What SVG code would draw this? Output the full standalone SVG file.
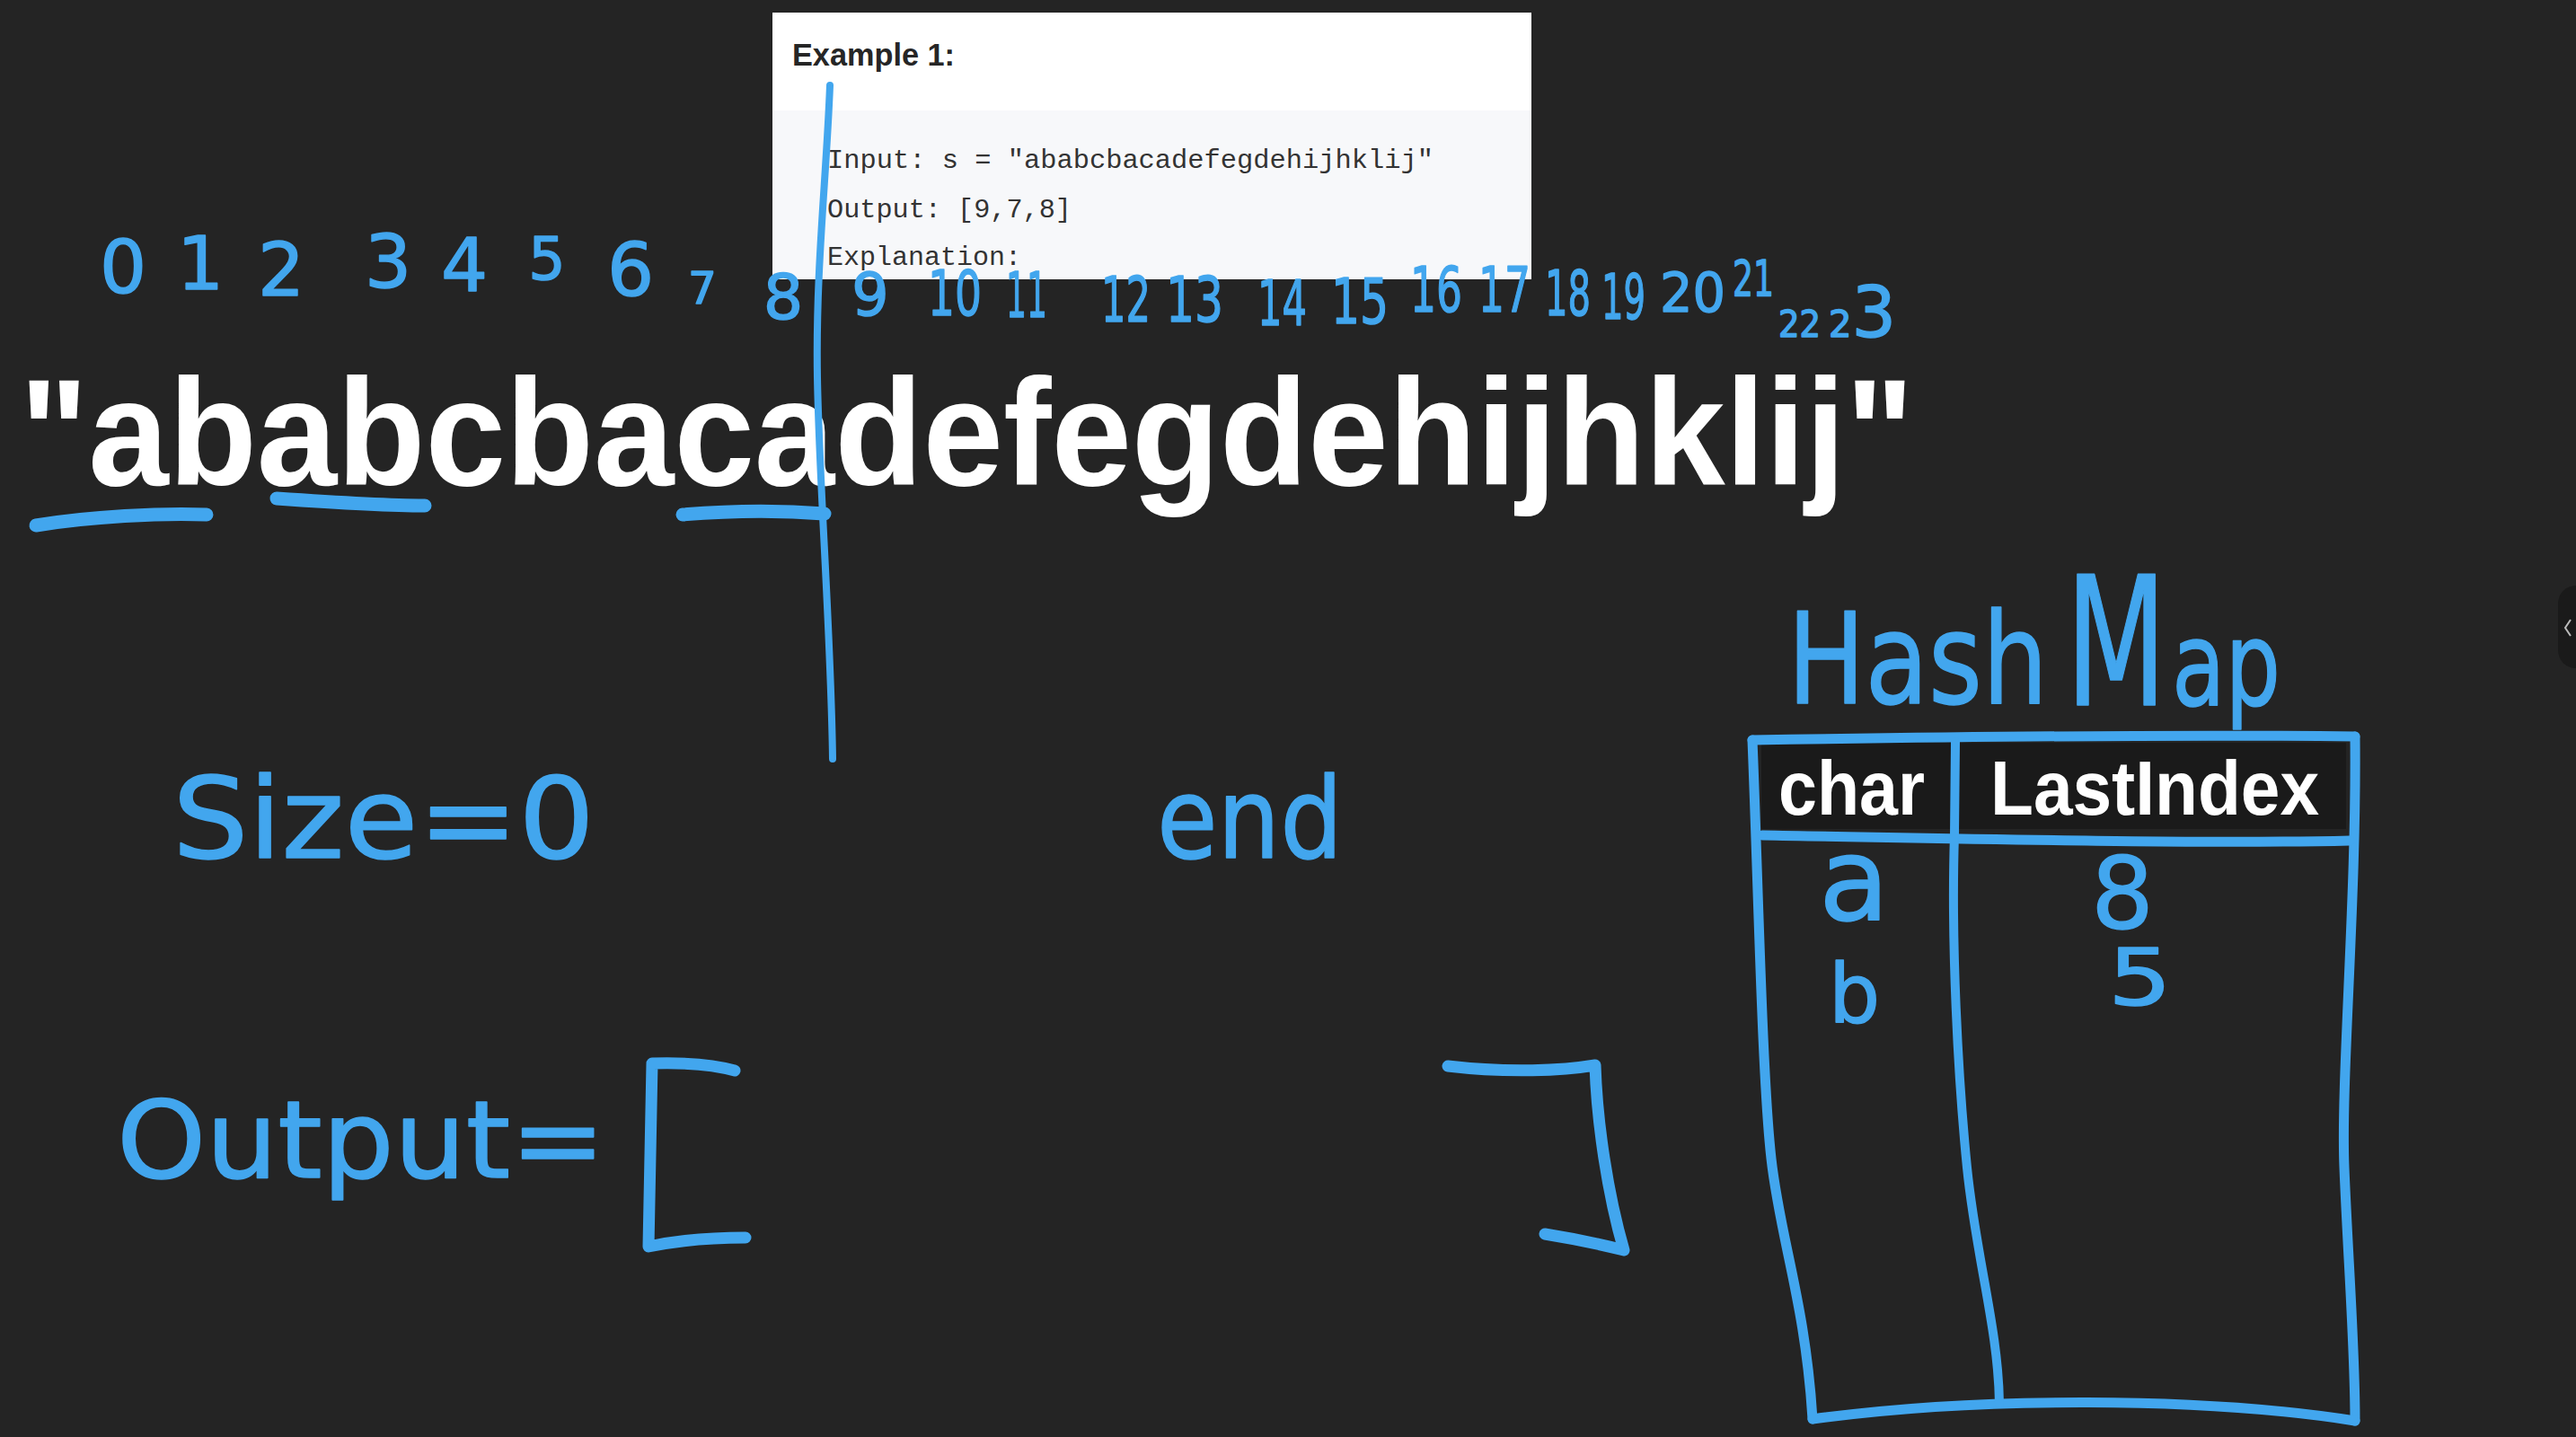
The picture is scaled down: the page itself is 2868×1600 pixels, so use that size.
<svg xmlns="http://www.w3.org/2000/svg" width="2868" height="1600" viewBox="0 0 2868 1600">
<style>
.hw{font-family:"DejaVu Sans","Noto Sans",sans-serif;fill:#42a6ee;stroke:#42a6ee;stroke-width:1.5;stroke-linejoin:round}
.ln{fill:none;stroke:#42a6ee;stroke-linecap:round;stroke-linejoin:round}
.big{font-family:"Liberation Sans",Arial,sans-serif;font-weight:bold;fill:#ffffff}
.code{font-family:"Liberation Mono","DejaVu Sans Mono",monospace;font-size:30px;fill:#333333}
</style>
<rect width="2868" height="1600" fill="#242424"/>

<g id="example-card">
<rect x="860" y="14" width="845" height="297" fill="#ffffff"/>
<rect x="860" y="123" width="845" height="188" fill="#f7f8fa"/>
<text x="882" y="73" font-family="Liberation Sans,Arial,sans-serif" font-weight="bold" font-size="35" fill="#262626" textLength="181" lengthAdjust="spacingAndGlyphs">Example 1:</text>
<text class="code" x="921" y="187" textLength="675" lengthAdjust="spacingAndGlyphs">Input: s = "ababcbacadefegdehijhklij"</text>
<text class="code" x="921" y="242" textLength="272" lengthAdjust="spacingAndGlyphs">Output: [9,7,8]</text>
<text class="code" x="921" y="295" textLength="216" lengthAdjust="spacingAndGlyphs">Explanation:</text>
</g>

<g id="string">
<text class="big" x="22" y="540" font-size="168" textLength="2109" lengthAdjust="spacingAndGlyphs">"ababcbacadefegdehijhklij"</text>
</g>

<g id="indices">
<text class="hw" text-anchor="middle" font-size="82"><tspan x="137" y="326">0</tspan><tspan x="223" y="322">1</tspan><tspan x="313" y="329">2</tspan><tspan x="432" y="320">3</tspan><tspan x="517" y="324">4</tspan><tspan x="609" y="311" font-size="65">5</tspan><tspan x="702" y="329">6</tspan><tspan x="782" y="338" font-size="50">7</tspan><tspan x="872" y="355" font-size="70">8</tspan><tspan x="969" y="351" font-size="65">9</tspan></text>
<text class="hw" font-size="70"><tspan x="1033" y="351" textLength="60" lengthAdjust="spacingAndGlyphs">10</tspan><tspan x="1120" y="353" textLength="46" lengthAdjust="spacingAndGlyphs">11</tspan><tspan x="1226" y="358" textLength="55" lengthAdjust="spacingAndGlyphs">12</tspan><tspan x="1298" y="358" textLength="64" lengthAdjust="spacingAndGlyphs">13</tspan><tspan x="1400" y="362" textLength="55" lengthAdjust="spacingAndGlyphs">14</tspan><tspan x="1482" y="360" textLength="64" lengthAdjust="spacingAndGlyphs">15</tspan><tspan x="1570" y="347" textLength="58" lengthAdjust="spacingAndGlyphs">16</tspan><tspan x="1646" y="347" textLength="58" lengthAdjust="spacingAndGlyphs">17</tspan><tspan x="1720" y="351" textLength="51" lengthAdjust="spacingAndGlyphs">18</tspan><tspan x="1783" y="355" textLength="49" lengthAdjust="spacingAndGlyphs">19</tspan><tspan x="1848" y="347" font-size="60" textLength="73" lengthAdjust="spacingAndGlyphs">20</tspan><tspan x="1929" y="329" font-size="55" textLength="46" lengthAdjust="spacingAndGlyphs">21</tspan><tspan x="1980" y="375" font-size="40" textLength="47" lengthAdjust="spacingAndGlyphs">22</tspan><tspan x="2036" y="375" font-size="40">2</tspan><tspan font-size="78">3</tspan></text>
</g>

<g id="marks">
<path class="ln" stroke-width="8" d="M924,95 C920,200 908,300 910,420 S925,700 927,845"/>
<path class="ln" stroke-width="15" d="M40,585 C100,575 180,571 230,573"/>
<path class="ln" stroke-width="15" d="M308,555 C380,560 430,563 473,563"/>
<path class="ln" stroke-width="15" d="M760,573 C820,568 880,569 918,572"/>
</g>

<g id="size">
<text class="hw" x="192" y="955" font-size="125" textLength="470" lengthAdjust="spacingAndGlyphs">Size=0</text>
</g>
<g id="end">
<text class="hw" x="1288" y="955" font-size="125" textLength="207" lengthAdjust="spacingAndGlyphs">end</text>
</g>

<g id="output">
<text class="hw" x="130" y="1311" font-size="120" textLength="544" lengthAdjust="spacingAndGlyphs">Output=</text>
<path class="ln" stroke-width="13" d="M818,1192 C790,1184 760,1183 726,1184 L722,1388 C760,1380 800,1378 830,1378"/>
<path class="ln" stroke-width="13" d="M1612,1187 C1680,1195 1740,1192 1776,1186 C1778,1250 1790,1330 1808,1392 C1780,1385 1745,1378 1720,1374"/>
</g>

<g id="hashmap">
<text class="hw" x="1990" y="783" font-size="140"><tspan textLength="290" lengthAdjust="spacingAndGlyphs">Hash</tspan><tspan x="2300" y="785" font-size="200" textLength="112" lengthAdjust="spacingAndGlyphs">M</tspan><tspan x="2418" y="785" font-size="130" textLength="121" lengthAdjust="spacingAndGlyphs">ap</tspan></text>
<rect x="1961" y="827" width="651" height="96" fill="#1a1a1a"/>
<text class="big" x="1980" y="907" font-size="86" textLength="163" lengthAdjust="spacingAndGlyphs">char</text>
<text class="big" x="2216" y="907" font-size="86" textLength="366" lengthAdjust="spacingAndGlyphs">LastIndex</text>
<path class="ln" stroke-width="11" d="M1951,824 C2200,820 2450,818 2622,820"/>
<path class="ln" stroke-width="11" d="M2622,820 C2624,1000 2606,1200 2610,1300 S2622,1500 2622,1582"/>
<path class="ln" stroke-width="11" d="M1951,824 C1958,1000 1962,1200 1972,1290 S2010,1450 2018,1580"/>
<path class="ln" stroke-width="11" d="M2018,1580 C2200,1555 2450,1555 2622,1582"/>
<path class="ln" stroke-width="11" d="M1962,930 C2200,934 2450,940 2616,936"/>
<path class="ln" stroke-width="10" d="M2177,826 L2176,930 C2172,1050 2180,1200 2190,1300 S2225,1480 2226,1563"/>
<text class="hw" x="2025" y="1024" font-size="128">a</text>
<text class="hw" x="2328" y="1033" font-size="110">8</text>
<text class="hw" x="2036" y="1138" font-size="90">b</text>
<text class="hw" x="2347" y="1119" font-size="88" textLength="71" lengthAdjust="spacingAndGlyphs">5</text>
</g>

<g id="side-tab">
<rect x="2848" y="652" width="40" height="92" rx="20" fill="#1a1a1a"/>
<polyline points="2862,690 2856,699 2862,708" fill="none" stroke="#bbbbbb" stroke-width="2"/>
</g>
</svg>
